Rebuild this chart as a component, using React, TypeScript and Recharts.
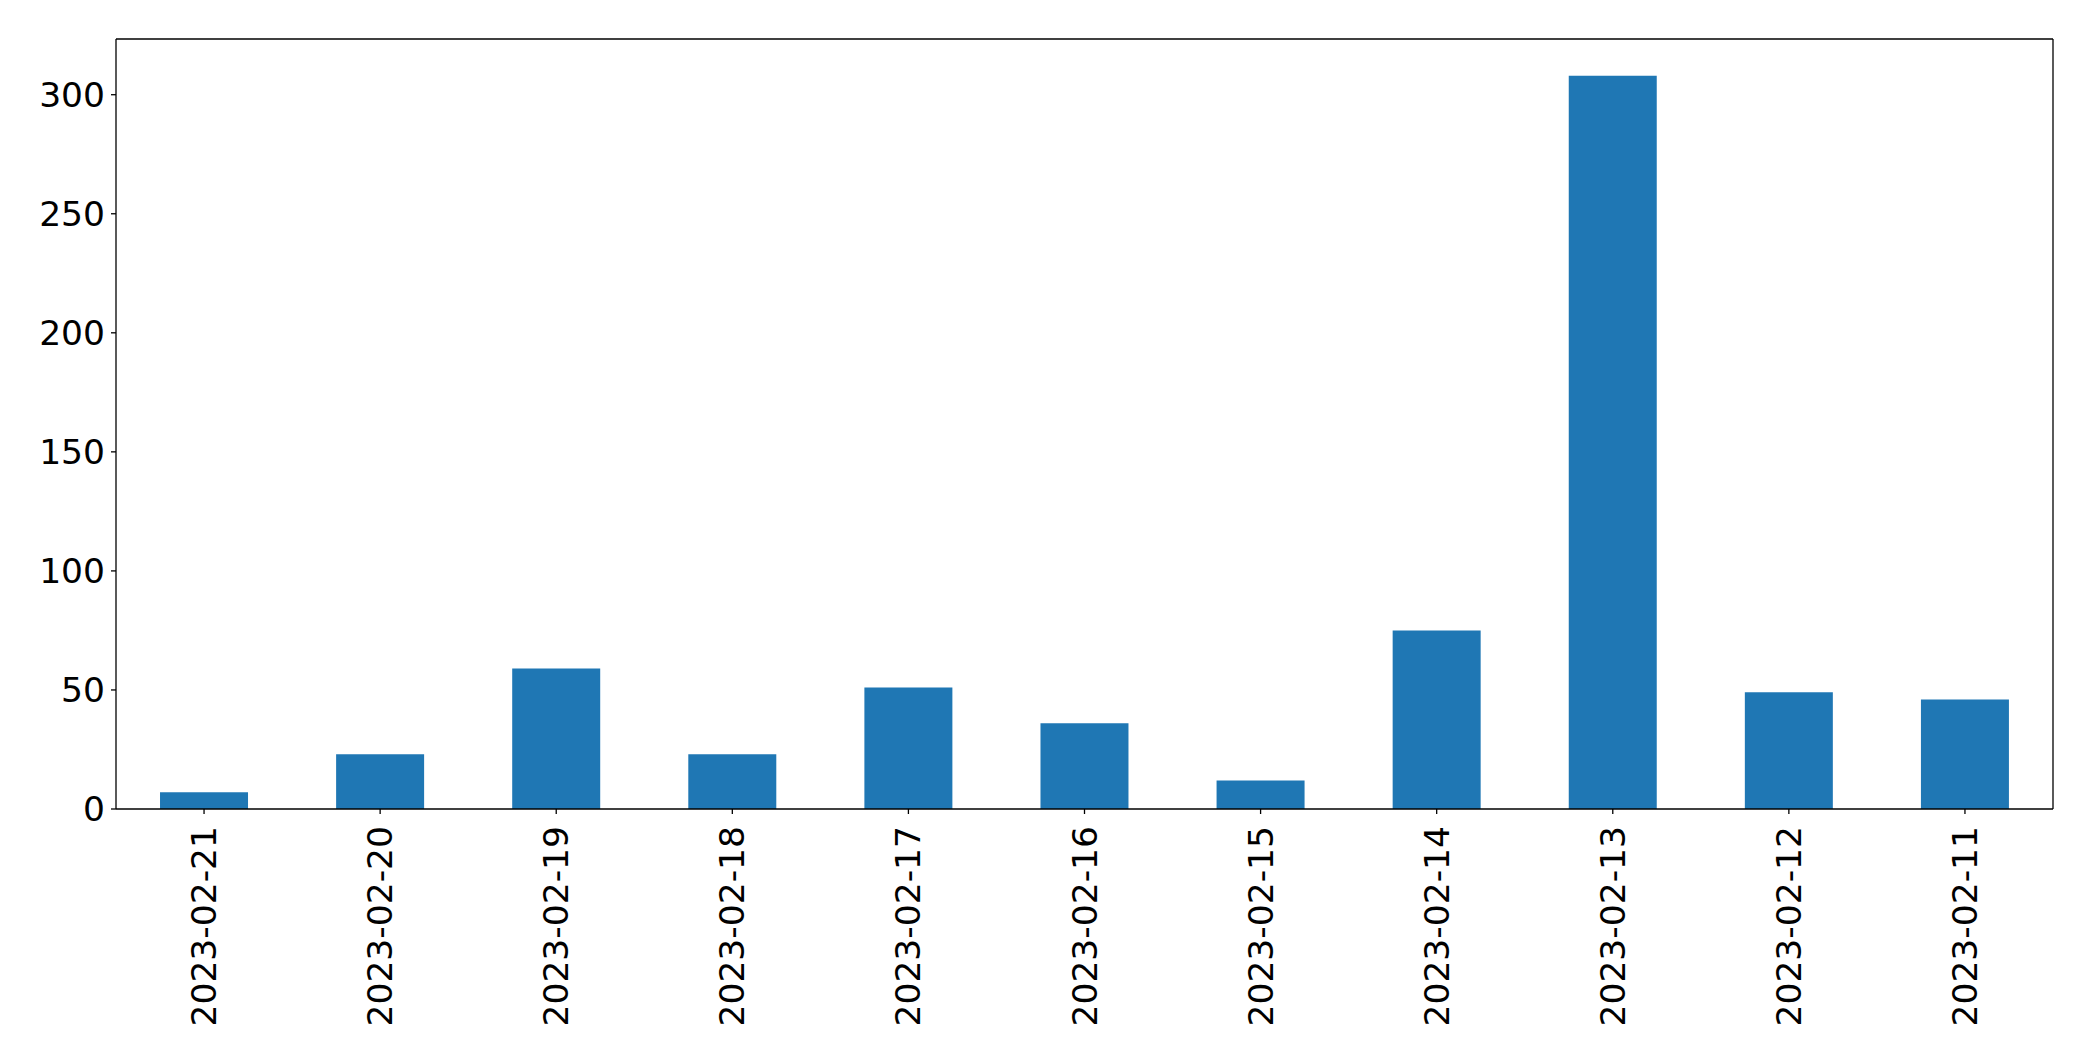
import React from 'react';
import { BarChart, Bar, XAxis, YAxis } from 'recharts';

const dates = [
  '2023-02-21', '2023-02-20', '2023-02-19', '2023-02-18', '2023-02-17', '2023-02-16',
  '2023-02-15', '2023-02-14', '2023-02-13', '2023-02-12', '2023-02-11',
];
const counts = [7, 23, 59, 23, 51, 36, 12, 75, 308, 49, 46];
const yTicks = [0, 50, 100, 150, 200, 250, 300];

const chartData = dates.map((d, i) => ({ date: d, count: counts[i] }));

const font = "'DejaVu Sans', sans-serif";
const fontSize = 34.5;

// rotated date labels under each bar
const DateTick = (props: any) => {
  const { x, y, payload } = props;
  return (
    <text
      x={0}
      y={0}
      transform={`translate(${x},${y}) rotate(-90)`}
      textAnchor="end"
      dy="0.35em"
      fontSize={fontSize}
      fontFamily={font}
      fill="#000"
    >
      {payload.value}
    </text>
  );
};

export default function App() {
  return (
    <div style={{ position: 'absolute', left: 0, top: 0, width: 2093, height: 1061, background: '#fff' }}>
      <BarChart
        width={2093}
        height={1061}
        data={chartData}
        margin={{ top: 38, right: 39, left: 0, bottom: 0 }}
        barCategoryGap="25%"
      >
        <XAxis
          dataKey="date"
          height={252}
          interval={0}
          tick={<DateTick />}
          tickSize={5}
          tickMargin={12}
          axisLine={{ stroke: '#000', strokeWidth: 1.3 }}
          tickLine={{ stroke: '#000', strokeWidth: 1.3 }}
        />
        {/* top frame line */}
        <XAxis
          xAxisId="top"
          dataKey="date"
          orientation="top"
          height={1}
          tick={false}
          tickLine={false}
          axisLine={{ stroke: '#000', strokeWidth: 1.3 }}
        />
        <YAxis
          width={116}
          domain={[0, 323.4]}
          ticks={yTicks}
          allowDataOverflow
          tickSize={5}
          tickMargin={6}
          tick={{ fontSize: fontSize, fontFamily: font, fill: '#000' }}
          axisLine={{ stroke: '#000', strokeWidth: 1.3 }}
          tickLine={{ stroke: '#000', strokeWidth: 1.3 }}
        />
        {/* right frame line */}
        <YAxis
          yAxisId="right"
          orientation="right"
          width={1}
          domain={[0, 323.4]}
          tick={false}
          tickLine={false}
          axisLine={{ stroke: '#000', strokeWidth: 1.3 }}
        />
        <Bar dataKey="count" fill="#1f77b4" isAnimationActive={false} />
      </BarChart>
    </div>
  );
}
